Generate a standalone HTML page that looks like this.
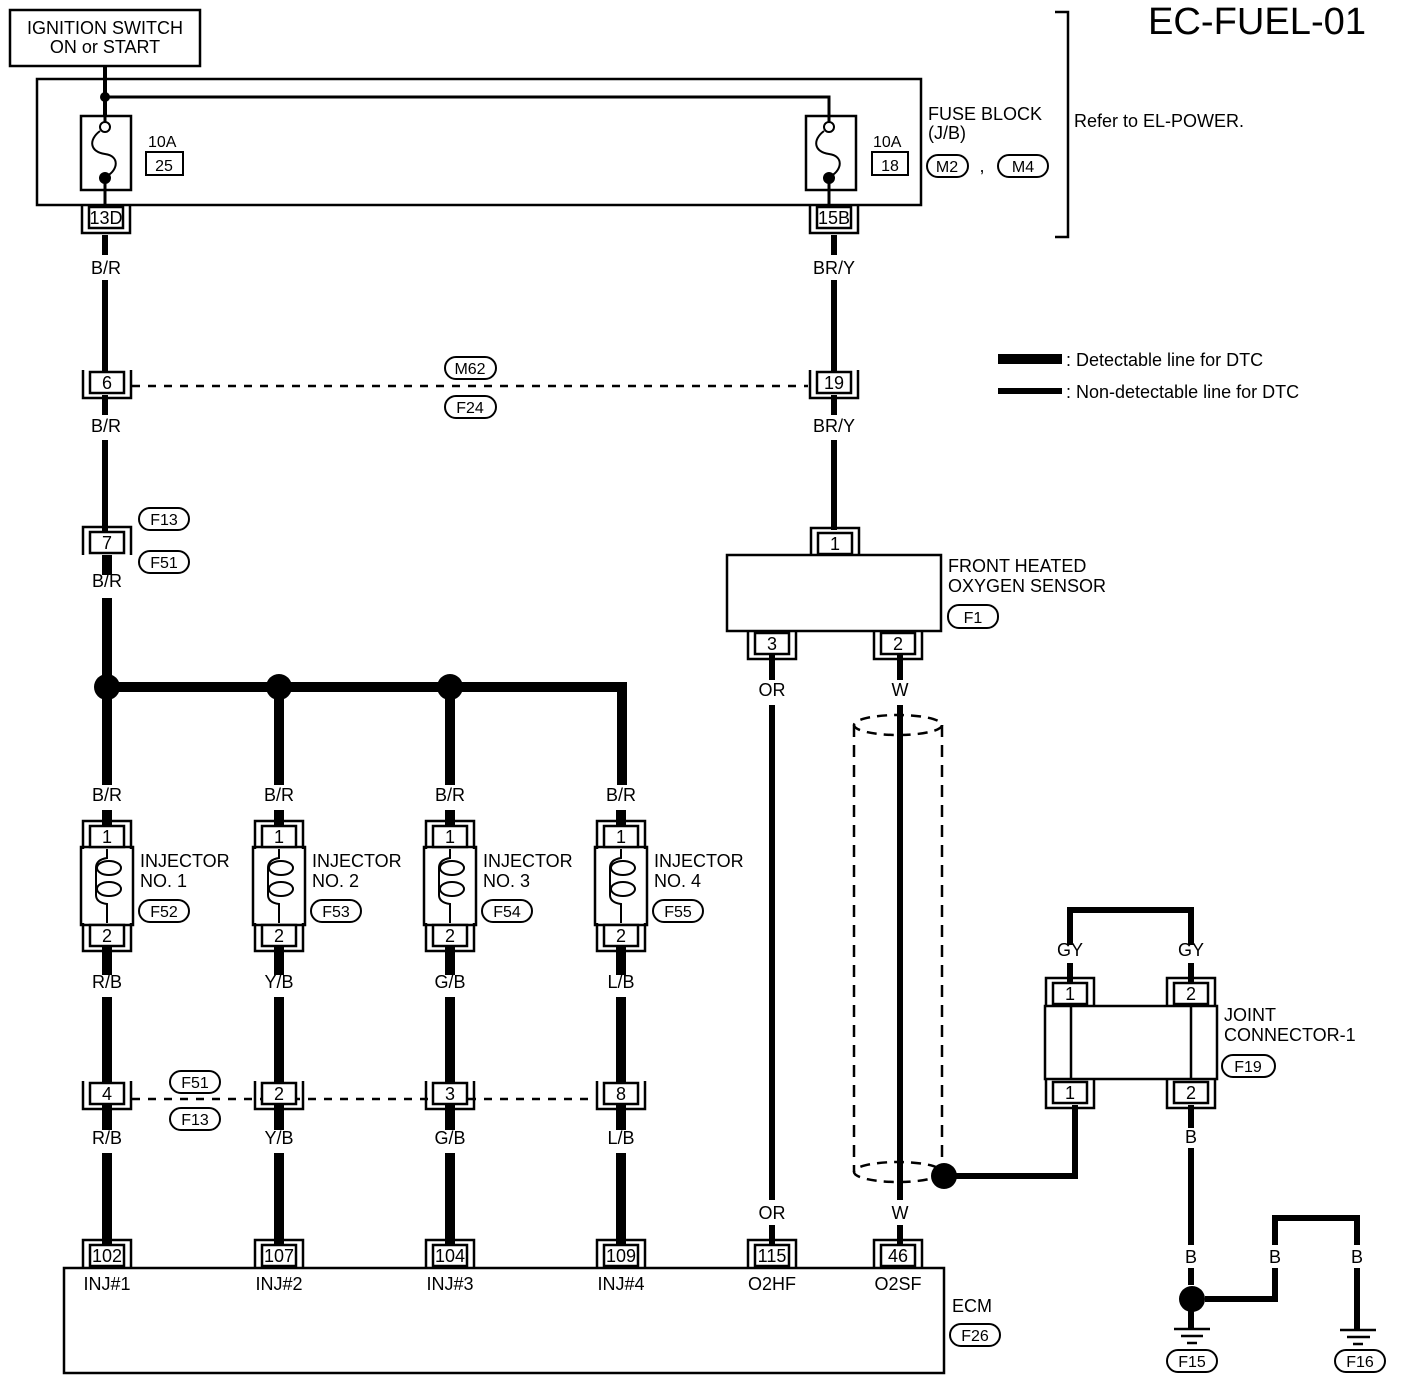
<!DOCTYPE html>
<html><head><style>
html,body{margin:0;padding:0;background:#fff;}
svg{display:block;}
text{font-family:"Liberation Sans",sans-serif;font-size:18px;fill:#000;}
.c{text-anchor:middle;}
</style></head><body>
<svg width="1408" height="1382" viewBox="0 0 1408 1382" xmlns="http://www.w3.org/2000/svg">
<defs>
<g id="cb" fill="none" stroke="#000" stroke-width="2.5"><rect x="-17" y="0" width="34" height="21" fill="#fff"/><path d="M-24,-2V26H24V-2"/></g>
<g id="ct" fill="none" stroke="#000" stroke-width="2.5"><rect x="-17" y="0" width="34" height="21" fill="#fff"/><path d="M-24,23V-5H24V23"/></g>
</defs>
<g stroke="#000" fill="none">
<rect x="10" y="10" width="190" height="56" stroke-width="2.5"/>
<rect x="37" y="79" width="884" height="126" stroke-width="2.5"/>
<path d="M105,66V178" stroke-width="4"/>
<path d="M105,97H829V178" stroke-width="3"/>
<rect x="81" y="116" width="50" height="74" stroke-width="2.5" fill="#fff"/>
<rect x="806" y="116" width="50" height="74" stroke-width="2.5" fill="#fff"/>
<path d="M105,112V122M105,183V207M829,112V122M829,183V207" stroke-width="3"/>
<path d="M100,131C88,140 90,152 105,154C120,156 118,170 107,176" stroke-width="2"/>
<path d="M824,131C812,140 814,152 829,154C844,156 842,170 831,176" stroke-width="2"/>
<rect x="146" y="152" width="37" height="23" stroke-width="2"/>
<rect x="872" y="152" width="36" height="23" stroke-width="2"/>
<path d="M1055,12H1068V237H1055" stroke-width="2.5"/>
<path d="M105,235V255M105,280V372M834,235V255M834,280V372" stroke-width="6"/>
<path d="M132,386H808" stroke-width="2.5" stroke-dasharray="8,8"/>
<path d="M105,395V415M105,440V532M834,395V415M834,440V530" stroke-width="6"/>
<path d="M998,359H1062" stroke-width="10"/>
<path d="M998,391H1062" stroke-width="6"/>
<path d="M107,555V575M107,598V690" stroke-width="10"/>
<path d="M107,687H622V785" stroke-width="10"/>
<path d="M279,687V785M450,687V785M107,687V785" stroke-width="10"/>
<path d="M107,810V826M279,810V826M450,810V826M621,810V826" stroke-width="10"/>
<path d="M107,947V975M279,947V975M450,947V975M621,947V975" stroke-width="10"/>
<path d="M107,997V1083M279,997V1083M450,997V1083M621,997V1083" stroke-width="10"/>
<path d="M132,1099H597" stroke-width="2.5" stroke-dasharray="8,8"/>
<path d="M107,1104V1130M279,1104V1130M450,1104V1130M621,1104V1130" stroke-width="10"/>
<path d="M107,1153V1244M279,1153V1244M450,1153V1244M621,1153V1244" stroke-width="10"/>
<rect x="727" y="555" width="214" height="76" stroke-width="2.5"/>
<path d="M772,655V680M772,705V1200M772,1225V1244" stroke-width="6"/>
<path d="M900,655V680M900,705V1200M900,1225V1244" stroke-width="6"/>
<ellipse cx="898" cy="725" rx="44" ry="10" stroke-width="2.5" stroke-dasharray="10,7"/>
<ellipse cx="898" cy="1172" rx="44" ry="10" stroke-width="2.5" stroke-dasharray="10,7"/>
<path d="M854,725V1172M942,725V1172" stroke-width="2.5" stroke-dasharray="12,8"/>
<path d="M944,1176H1075V1105" stroke-width="6"/>
<path d="M1070,945V910H1191V945" stroke-width="6"/>
<path d="M1070,963V982M1191,963V982" stroke-width="6"/>
<rect x="1045" y="1006" width="172" height="73" stroke-width="2.5"/>
<path d="M1071,1006V1079M1191,1006V1079" stroke-width="2.5"/>
<path d="M1191,1105V1128M1191,1148V1245M1191,1268V1285" stroke-width="6"/>
<path d="M1205,1299H1275V1268M1275,1245V1218H1357V1245M1357,1268V1330" stroke-width="6"/>
<path d="M1191,1310V1328" stroke-width="6"/>
<path d="M1174,1329H1210M1181,1336H1203M1187,1343H1197" stroke-width="2.5"/>
<path d="M1340,1330H1376M1347,1337H1370M1353,1344H1363" stroke-width="2.5"/>
<rect x="64" y="1268" width="880" height="105" stroke-width="2.5"/>
<g stroke-width="2">
<rect x="927" y="155" width="41" height="22" rx="11"/>
<rect x="998" y="155" width="50" height="22" rx="11"/>
<rect x="445" y="357" width="51" height="22" rx="11"/>
<rect x="445" y="396" width="51" height="22" rx="11"/>
<rect x="139" y="508" width="50" height="22" rx="11"/>
<rect x="139" y="551" width="50" height="22" rx="11"/>
<rect x="139" y="900" width="50" height="22" rx="11"/>
<rect x="311" y="900" width="50" height="22" rx="11"/>
<rect x="482" y="900" width="50" height="22" rx="11"/>
<rect x="653" y="900" width="50" height="22" rx="11"/>
<rect x="170" y="1071" width="50" height="22" rx="11"/>
<rect x="170" y="1108" width="50" height="22" rx="11"/>
<rect x="948" y="605" width="50" height="23" rx="11"/>
<rect x="1222" y="1055" width="53" height="22" rx="11"/>
<rect x="950" y="1324" width="50" height="22" rx="11"/>
<rect x="1167" y="1350" width="50" height="22" rx="11"/>
<rect x="1335" y="1350" width="50" height="22" rx="11"/>
</g>
</g>
<g fill="#000">
<circle cx="105" cy="97" r="5"/><circle cx="105" cy="178" r="6"/><circle cx="829" cy="178" r="6"/>
<circle cx="107" cy="687" r="13"/><circle cx="279" cy="687" r="13"/><circle cx="450" cy="687" r="13"/>
<circle cx="944" cy="1176" r="13"/><circle cx="1192" cy="1299" r="13"/>
</g>
<g fill="#fff" stroke="#000" stroke-width="2"><circle cx="105" cy="127" r="5"/><circle cx="829" cy="127" r="5"/></g>
<g fill="#fff" stroke="#000" stroke-width="2.5">
<rect x="81" y="847" width="52" height="78"/><rect x="253" y="847" width="52" height="78"/>
<rect x="424" y="847" width="52" height="78"/><rect x="595" y="847" width="52" height="78"/>
</g>
<g fill="none" stroke="#000" stroke-width="2">
<g id="coil">
<path d="M107,849V858C100,859 96,862 96,868V895C96,900 100,903 107,904V923"/>
<ellipse cx="109" cy="868" rx="12" ry="7"/>
<ellipse cx="109" cy="889" rx="12" ry="7"/>
</g>
<use href="#coil" x="172"/><use href="#coil" x="343"/><use href="#coil" x="514"/>
</g>
<use href="#cb" x="106" y="207"/><use href="#cb" x="834" y="207"/>
<use href="#cb" x="107" y="372"/><use href="#cb" x="834" y="372"/>
<use href="#ct" x="107" y="532"/><use href="#ct" x="835" y="533"/>
<use href="#ct" x="107" y="826"/><use href="#ct" x="279" y="826"/><use href="#ct" x="450" y="826"/><use href="#ct" x="621" y="826"/>
<use href="#cb" x="107" y="925"/><use href="#cb" x="279" y="925"/><use href="#cb" x="450" y="925"/><use href="#cb" x="621" y="925"/>
<use href="#cb" x="107" y="1083"/><use href="#cb" x="279" y="1083"/><use href="#cb" x="450" y="1083"/><use href="#cb" x="621" y="1083"/>
<use href="#ct" x="107" y="1245"/><use href="#ct" x="279" y="1245"/><use href="#ct" x="450" y="1245"/><use href="#ct" x="621" y="1245"/><use href="#ct" x="772" y="1245"/><use href="#ct" x="898" y="1245"/>
<use href="#cb" x="772" y="633"/><use href="#cb" x="898" y="633"/>
<use href="#ct" x="1070" y="983"/><use href="#ct" x="1191" y="983"/>
<use href="#cb" x="1070" y="1082"/><use href="#cb" x="1191" y="1082"/>
<text x="105" y="34" class="c">IGNITION SWITCH</text>
<text x="105" y="53" class="c">ON or START</text>
<text x="1148" y="34" style="font-size:38px" textLength="218" lengthAdjust="spacingAndGlyphs">EC-FUEL-01</text>
<text x="148" y="147" style="font-size:16px">10A</text><text x="164" y="171" class="c" style="font-size:16px">25</text>
<text x="873" y="147" style="font-size:16px">10A</text><text x="890" y="171" class="c" style="font-size:16px">18</text>
<text x="928" y="120">FUSE BLOCK</text><text x="928" y="139">(J/B)</text>
<text x="947" y="172" class="c" style="font-size:16px">M2</text><text x="982" y="172" class="c">,</text><text x="1023" y="172" class="c" style="font-size:16px">M4</text>
<text x="1074" y="127">Refer to EL-POWER.</text>
<g style="font-size:15px">
<text x="106" y="224" class="c">13D</text><text x="834" y="224" class="c">15B</text>
<text x="107" y="389" class="c">6</text><text x="834" y="389" class="c">19</text>
<text x="107" y="549" class="c">7</text><text x="835" y="550" class="c">1</text>
<text x="772" y="650" class="c">3</text><text x="898" y="650" class="c">2</text>
<text x="107" y="843" class="c">1</text><text x="279" y="843" class="c">1</text><text x="450" y="843" class="c">1</text><text x="621" y="843" class="c">1</text>
<text x="107" y="942" class="c">2</text><text x="279" y="942" class="c">2</text><text x="450" y="942" class="c">2</text><text x="621" y="942" class="c">2</text>
<text x="107" y="1100" class="c">4</text><text x="279" y="1100" class="c">2</text><text x="450" y="1100" class="c">3</text><text x="621" y="1100" class="c">8</text>
<text x="107" y="1262" class="c">102</text><text x="279" y="1262" class="c">107</text><text x="450" y="1262" class="c">104</text><text x="621" y="1262" class="c">109</text><text x="772" y="1262" class="c">115</text><text x="898" y="1262" class="c">46</text>
<text x="1070" y="1000" class="c">1</text><text x="1191" y="1000" class="c">2</text>
<text x="1070" y="1099" class="c">1</text><text x="1191" y="1099" class="c">2</text>
</g>
<text x="106" y="274" class="c">B/R</text><text x="834" y="274" class="c">BR/Y</text>
<text x="106" y="432" class="c">B/R</text><text x="834" y="432" class="c">BR/Y</text>
<text x="107" y="587" class="c">B/R</text>
<text x="470" y="374" class="c" style="font-size:16px">M62</text><text x="470" y="413" class="c" style="font-size:16px">F24</text>
<text x="164" y="525" class="c" style="font-size:16px">F13</text><text x="164" y="568" class="c" style="font-size:16px">F51</text>
<text x="1066" y="366">: Detectable line for DTC</text>
<text x="1066" y="398">: Non-detectable line for DTC</text>
<text x="107" y="801" class="c">B/R</text><text x="279" y="801" class="c">B/R</text><text x="450" y="801" class="c">B/R</text><text x="621" y="801" class="c">B/R</text>
<text x="140" y="867">INJECTOR</text><text x="140" y="887">NO. 1</text>
<text x="312" y="867">INJECTOR</text><text x="312" y="887">NO. 2</text>
<text x="483" y="867">INJECTOR</text><text x="483" y="887">NO. 3</text>
<text x="654" y="867">INJECTOR</text><text x="654" y="887">NO. 4</text>
<text x="164" y="917" class="c" style="font-size:16px">F52</text><text x="336" y="917" class="c" style="font-size:16px">F53</text><text x="507" y="917" class="c" style="font-size:16px">F54</text><text x="678" y="917" class="c" style="font-size:16px">F55</text>
<text x="107" y="988" class="c">R/B</text><text x="279" y="988" class="c">Y/B</text><text x="450" y="988" class="c">G/B</text><text x="621" y="988" class="c">L/B</text>
<text x="195" y="1088" class="c" style="font-size:16px">F51</text><text x="195" y="1125" class="c" style="font-size:16px">F13</text>
<text x="107" y="1144" class="c">R/B</text><text x="279" y="1144" class="c">Y/B</text><text x="450" y="1144" class="c">G/B</text><text x="621" y="1144" class="c">L/B</text>
<text x="107" y="1290" class="c">INJ#1</text><text x="279" y="1290" class="c">INJ#2</text><text x="450" y="1290" class="c">INJ#3</text><text x="621" y="1290" class="c">INJ#4</text><text x="772" y="1290" class="c">O2HF</text><text x="898" y="1290" class="c">O2SF</text>
<text x="952" y="1312">ECM</text><text x="975" y="1341" class="c" style="font-size:16px">F26</text>
<text x="948" y="572">FRONT HEATED</text><text x="948" y="592">OXYGEN SENSOR</text>
<text x="973" y="623" class="c" style="font-size:16px">F1</text>
<text x="772" y="696" class="c">OR</text><text x="900" y="696" class="c">W</text>
<text x="772" y="1219" class="c">OR</text><text x="900" y="1219" class="c">W</text>
<text x="1070" y="956" class="c">GY</text><text x="1191" y="956" class="c">GY</text>
<text x="1224" y="1021">JOINT</text><text x="1224" y="1041">CONNECTOR-1</text>
<text x="1248" y="1072" class="c" style="font-size:16px">F19</text>
<text x="1191" y="1143" class="c">B</text><text x="1191" y="1263" class="c">B</text><text x="1275" y="1263" class="c">B</text><text x="1357" y="1263" class="c">B</text>
<text x="1192" y="1367" class="c" style="font-size:16px">F15</text><text x="1360" y="1367" class="c" style="font-size:16px">F16</text>
</svg>
</body></html>
